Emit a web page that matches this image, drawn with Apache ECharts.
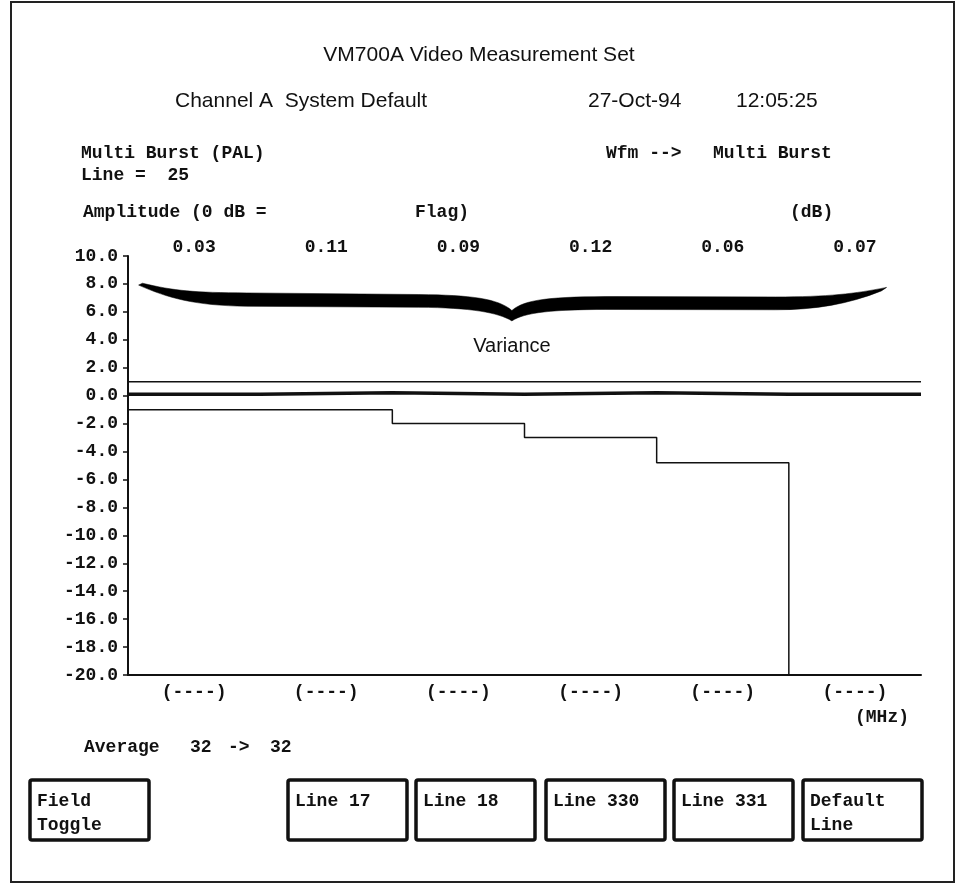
<!DOCTYPE html>
<html>
<head>
<meta charset="utf-8">
<script src="https://cdn.jsdelivr.net/npm/echarts@6/dist/echarts.min.js"></script>
<style>
  html, body { margin: 0; padding: 0; background: #fff; }
  #chart { width: 958px; height: 884px; }
</style>
</head>
<body>
<div id="chart"></div>
<script>
// Multi Burst (PAL) frequency response, six packets
const packetLabels = ['(----)', '(----)', '(----)', '(----)', '(----)', '(----)'];
const flagValues = ['0.03', '0.11', '0.09', '0.12', '0.06', '0.07'];
const measuredDb = [0.1, 0.2, 0.1, 0.2, 0.1, 0.1];
const upperLimitDb = [1.0, 1.0, 1.0, 1.0, 1.0, 1.0];
const lowerLimitDb = [-1.0, -1.0, -2.0, -3.0, -4.8, -20.0];
const yMin = -20, yMax = 10, yStep = 2;
const softKeys = ['Field\nToggle', 'Line 17', 'Line 18', 'Line 330', 'Line 331', 'Default\nLine'];

// brace outline over the packets (packet-index x, dB y)
const bracePath = [
  ['M', [0.11, 8.05]],
  ['C', [0.35, 7.5], [0.5, 7.38], [0.9, 7.36]],
  ['L', [2.2, 7.24]],
  ['C', [2.6, 7.2], [2.8, 6.95], [2.905, 6.1]],
  ['C', [3.0, 6.9], [3.2, 7.1], [3.7, 7.1]],
  ['L', [4.9, 7.07]],
  ['C', [5.3, 7.07], [5.5, 7.3], [5.74, 7.75]],
  ['L', [5.70, 7.5]],
  ['C', [5.45, 6.55], [5.2, 6.15], [4.9, 6.15]],
  ['L', [3.7, 6.17]],
  ['C', [3.2, 6.2], [3.0, 5.95], [2.905, 5.35]],
  ['C', [2.8, 5.95], [2.6, 6.3], [2.2, 6.33]],
  ['L', [0.9, 6.4]],
  ['C', [0.5, 6.45], [0.3, 7.0], [0.08, 7.92]],
  ['Z']
];
const braceLabel = { text: 'Variance', at: [2.905, 3.55] };

// band values -> horizontal segments joined by vertical risers
function bandSteps(vals) {
  const pts = [];
  vals.forEach(function (v, i) { pts.push([i, v]); pts.push([i + 1, v]); });
  return pts;
}

const ink = '#111';
const mono = "'Liberation Mono', 'DejaVu Sans Mono', monospace";
const sans = "'Liberation Sans', Arial, sans-serif";
const monoFont = 'bold 18px ' + mono;

function monoText(x, y, text) {
  return { type: 'text', x: x, y: y, style: { text: text, font: monoFont, fill: ink, verticalAlign: 'middle' } };
}
function sansText(x, y, text, align) {
  return { type: 'text', x: x, y: y, style: { text: text, font: '21px ' + sans, fill: ink, verticalAlign: 'middle', align: align || 'left' } };
}

const keyX = [30, 288, 416, 546, 674, 803];
const graphics = [
  { type: 'rect', shape: { x: 11, y: 2, width: 943, height: 880 }, style: { fill: 'none', stroke: '#222', lineWidth: 2 }, silent: true },
  sansText(479, 55, 'VM700A Video Measurement Set', 'center'),
  sansText(175, 101, 'Channel A  System Default'),
  sansText(588, 101, '27-Oct-94'),
  sansText(736, 101, '12:05:25'),
  monoText(81, 153, 'Multi Burst (PAL)'),
  monoText(81, 175, 'Line =  25'),
  monoText(83, 212, 'Amplitude (0 dB ='),
  monoText(415, 212, 'Flag)'),
  monoText(606, 153, 'Wfm -->'),
  monoText(713, 153, 'Multi Burst'),
  monoText(790, 212, '(dB)'),
  monoText(855, 717, '(MHz)'),
  monoText(84, 747, 'Average'),
  monoText(190, 747, '32'),
  monoText(228, 747, '->'),
  monoText(270, 747, '32')
];
softKeys.forEach(function (label, i) {
  graphics.push({ type: 'rect', shape: { x: keyX[i], y: 780, width: 119, height: 60, r: 2 },
    style: { fill: '#fff', stroke: ink, lineWidth: 3.5 } });
  graphics.push({ type: 'text', x: keyX[i] + 7, y: 789,
    style: { text: label, font: monoFont, fill: ink, lineHeight: 24, verticalAlign: 'top' } });
});

const chart = echarts.init(document.getElementById('chart'), null, { renderer: 'canvas' });
chart.setOption({
  animation: false,
  backgroundColor: '#fff',
  grid: { left: 128, right: 37, top: 256, bottom: 209, containLabel: false },
  xAxis: [
    {
      type: 'category', position: 'bottom', data: packetLabels, boundaryGap: true,
      axisLine: { onZero: false, lineStyle: { color: ink, width: 2 } },
      axisTick: { length: 7, lineStyle: { color: ink, width: 2 } },
      axisLabel: { margin: 8, color: ink, fontWeight: 'bold', fontFamily: mono, fontSize: 18 },
      splitLine: { show: false }
    },
    {
      type: 'category', position: 'top', data: flagValues, boundaryGap: true,
      axisLine: { show: false, onZero: false }, axisTick: { show: false },
      axisLabel: { margin: 0, color: ink, fontWeight: 'bold', fontFamily: mono, fontSize: 18 },
      splitLine: { show: false }
    },
    {
      type: 'value', min: 0, max: 6, show: false, splitLine: { show: false },
      axisLine: { onZero: false }
    }
  ],
  yAxis: {
    type: 'value', min: yMin, max: yMax, interval: yStep,
    axisLine: { show: true, onZero: false, lineStyle: { color: ink, width: 2 } },
    axisTick: { show: true, length: 5, lineStyle: { color: ink, width: 1.5 } },
    axisLabel: { margin: 10, color: ink, fontWeight: 'bold', fontFamily: mono, fontSize: 18,
      formatter: function (v) { return v.toFixed(1); } },
    splitLine: { show: false }
  },
  series: [
    {
      name: 'Upper limit', type: 'line', xAxisIndex: 2, data: bandSteps(upperLimitDb),
      symbol: 'none', lineStyle: { color: ink, width: 1.5 }, z: 3
    },
    {
      name: 'Lower limit', type: 'line', xAxisIndex: 2, data: bandSteps(lowerLimitDb),
      symbol: 'none', lineStyle: { color: ink, width: 1.5 }, z: 3
    },
    {
      name: 'Amplitude', type: 'line', xAxisIndex: 2, data: bandSteps(measuredDb),
      symbol: 'none', lineStyle: { color: ink, width: 3.5 }, z: 4
    },
    {
      name: 'Variance', type: 'custom', xAxisIndex: 2, data: [[0, 0]], clip: false, z: 5,
      renderItem: function (params, api) {
        let d = '';
        bracePath.forEach(function (cmd) {
          d += cmd[0];
          for (let k = 1; k < cmd.length; k++) {
            const p = api.coord(cmd[k]);
            d += ' ' + p[0].toFixed(1) + ' ' + p[1].toFixed(1);
          }
          d += ' ';
        });
        const lp = api.coord(braceLabel.at);
        return {
          type: 'group',
          children: [
            { type: 'path', shape: { pathData: d }, style: { fill: '#000', stroke: '#000', lineWidth: 0.5 } },
            { type: 'text', x: lp[0], y: lp[1],
              style: { text: braceLabel.text, font: '20px ' + sans, fill: ink, align: 'center', verticalAlign: 'middle' } }
          ]
        };
      }
    }
  ],
  graphic: graphics
});
</script>
</body>
</html>
